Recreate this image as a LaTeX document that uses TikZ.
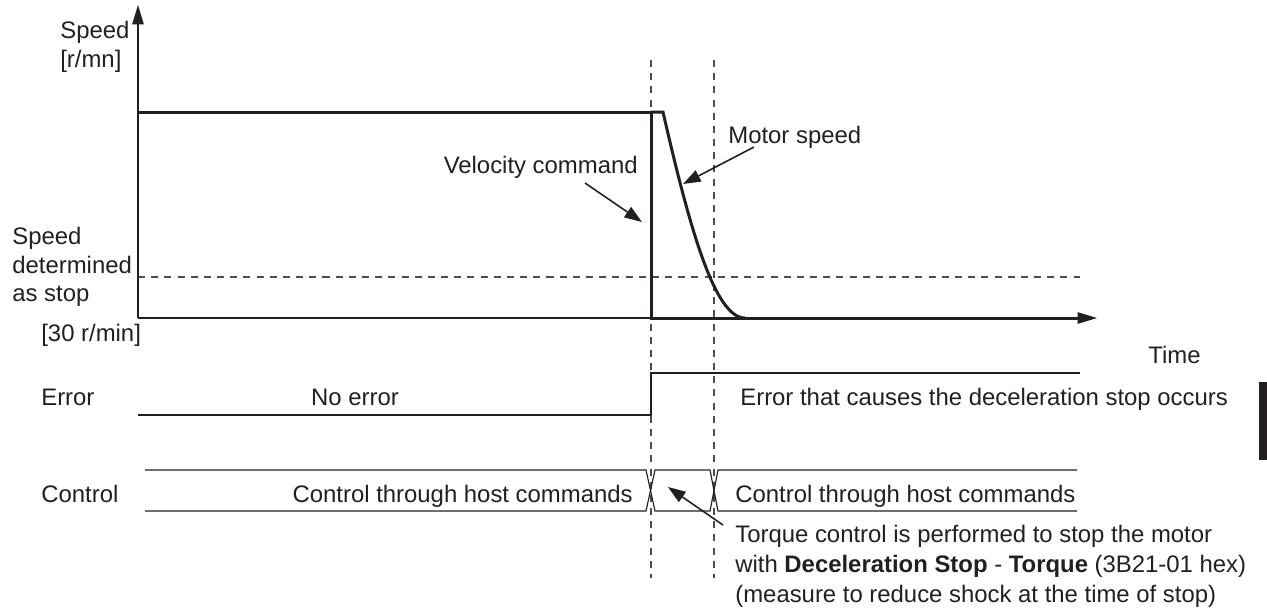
\documentclass[tikz,border=0pt]{standalone}
\usepackage{fontspec}
\setmainfont{Liberation Sans}
\usetikzlibrary{arrows.meta, positioning, calc}
\definecolor{ink}{RGB}{35, 31, 32}
\tikzset{
    sig/.style = {draw=ink, line width=1.7pt, line join=miter},
    wire/.style = {draw=ink, line width=0.65pt},
    axis/.style = {draw=ink, line width=0.65pt, -{Triangle[length=11pt,width=6.5pt]}},
    guide/.style = {draw=ink!80, line width=0.6pt, dash pattern=on 4pt off 3.5pt},
    pointer/.style = {draw=ink, line width=0.9pt, -{Triangle[length=10pt,width=7pt]}},
    lbl/.style = {text=ink, inner sep=0pt, font=\fontsize{13.6}{16.2}\selectfont},
    note/.style = {lbl, align=left}
}

\begin{document}
\begin{tikzpicture}[x=0.02cm, y=-0.02cm]
\useasboundingbox (0,0) rectangle (1267,610);

% key points of the speed chart
\coordinate (O) at (138,318);
\coordinate (yend) at (138,5);
\coordinate (xend) at (1097,318);
\coordinate (hi) at (138,112);
\coordinate (cut) at (651,112);
\coordinate (drop) at (651,318);
\coordinate (rest) at (1080,318);
\coordinate (ms0) at (663,112);
\coordinate (ms1) at (745,318);

% dashed guides
\draw[guide] (651,60) -- (651,578);
\draw[guide] (714,60) -- (714,578);
\draw[guide] (138,277) -- (1080,277);

% axes
\draw[axis] (O) -- (yend);
\draw[axis] (O) -- (xend);

% velocity command and motor speed
\draw[sig] (hi) -- (cut) -- (drop) -- (rest);
\draw[sig] (cut) -- (ms0) .. controls (690,230) and (715,318) .. (ms1);

% error signal
\draw[wire] (138,415) -- (651,415) -- (651,373) -- (1080,373);

% control bus
\draw[wire] (145,470) -- (646,470) -- (655,511) -- (710,511) -- (718,470) -- (1077,470);
\draw[wire] (145,511) -- (646,511) -- (655,470) -- (710,470) -- (718,511) -- (1077,511);

% labels
\node (yaxis) [note, anchor=north west] at (60,21) {Speed\\{[r/mn]}};
\node (stoplbl) [note, anchor=north west] at (12,227) {Speed\\determined\\as stop};
\node (stopval) [lbl, anchor=base west] at (41,341) {[30 r/min]};
\node (time) [lbl, anchor=base west] at (1148,363) {Time};
\node (vcmd) [lbl, anchor=base east] at (638,173) {Velocity command};
\node (mspd) [lbl, anchor=base west] at (728,143) {Motor speed};
\node (err) [lbl, anchor=base west] at (41,405) {Error};
\node (noerr) [lbl, anchor=base] at (355,405) {No error};
\node (errocc) [lbl, anchor=base west] at (740,405) {Error that causes the deceleration stop occurs};
\node (ctrl) [lbl, anchor=base west] at (41,502) {Control};
\node (host1) [lbl, anchor=base east] at (633,502) {Control through host commands};
\node (host2) [lbl, anchor=base west] at (735,502) {Control through host commands};
\node (torque) [note, anchor=north west, font=\fontsize{13.6}{17}\selectfont] at (735,525)
    {Torque control is performed to stop the motor\\
     with \textbf{Deceleration Stop} - \textbf{Torque} (3B21-01 hex)\\
     (measure to reduce shock at the time of stop)};

% pointers
\coordinate (vc-tail) at (585,183);
\coordinate (vc-tip) at (642,222);
\coordinate (ms-tail) at (754,147);
\coordinate (ms-tip) at (683,184);
\coordinate (tq-tail) at (723,525);
\coordinate (tq-tip) at (668,487);
\draw[pointer] (vc-tail) -- (vc-tip);
\draw[pointer] (ms-tail) -- (ms-tip);
\draw[pointer] (tq-tail) -- (tq-tip);

% page tab
\fill[ink] (1259,382) rectangle (1267,460);
\end{tikzpicture}
\end{document}
